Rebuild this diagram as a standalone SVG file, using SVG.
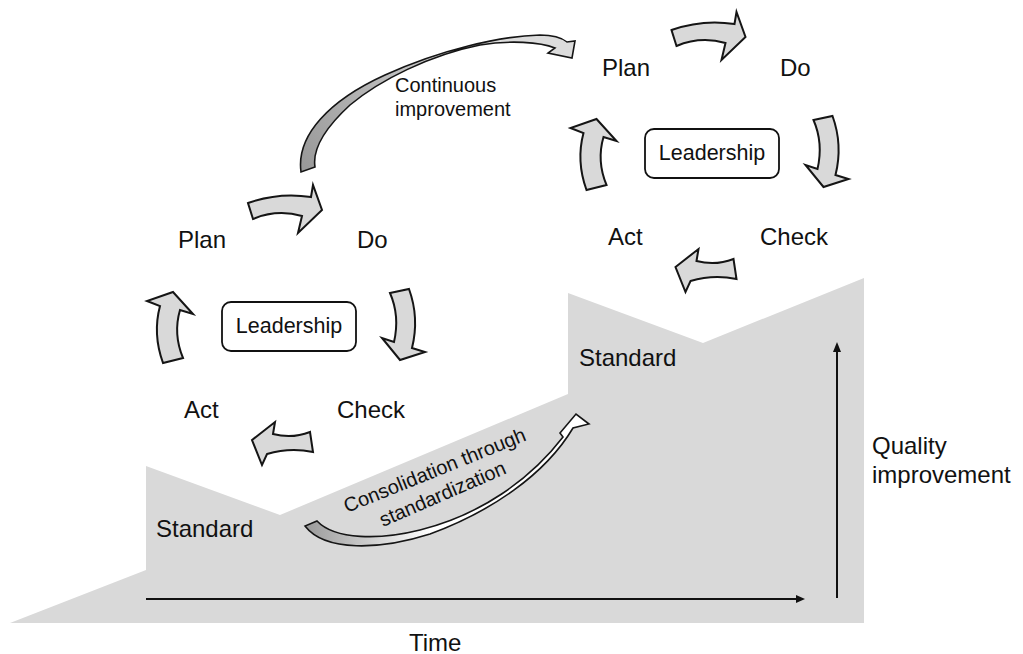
<svg xmlns="http://www.w3.org/2000/svg" xmlns:xlink="http://www.w3.org/1999/xlink" width="1023" height="654" viewBox="0 0 1023 654">
  <style>
    .lbl { font-family: "Liberation Sans", Arial, sans-serif; font-size: 24px; fill: #111; }
    .lead { font-family: "Liberation Sans", Arial, sans-serif; font-size: 21.5px; fill: #111; text-anchor: middle; }
    .note { font-family: "Liberation Sans", Arial, sans-serif; font-size: 20px; fill: #111; }
    .box { fill: #fff; stroke: #111; stroke-width: 1.8; }
    .cyc { fill: #d9d9d9; stroke: #151515; stroke-width: 2; stroke-linejoin: miter; }
    .axis { stroke: #111; stroke-width: 2; fill: none; }
    .head { fill: #111; }
  </style>
  <defs>
    <!-- curved block arrows of one PDCA cycle -->
    <path id="arrPD" d="M248,203 Q279,192 311,197 L313,185 L322,210 L298,233 L302,216 Q277,209 253,219 Z"/>
    <path id="arrDC" d="M390,293 L409,289 Q419.5,318 412,348 L425,352 L400,360 L382,338 L394,342 Q400,316 390,293 Z"/>
    <path id="arrCA" d="M310,432 Q292,439 273,434 L275,422 L252,440 L262,465 L267,454 Q290,447 313,452 Z"/>
    <path id="arrAP" d="M163,363 Q152.5,334 160,306 L147,301 L173,292 L193,314 L180,310 Q173,334 183,358 Z"/>
    <linearGradient id="gradUp" gradientUnits="userSpaceOnUse" x1="305" y1="165" x2="500" y2="40">
      <stop offset="0" stop-color="#9a9a9a"/>
      <stop offset="1" stop-color="#dcdcdc"/>
    </linearGradient>
    <linearGradient id="gradCons" gradientUnits="userSpaceOnUse" x1="305" y1="530" x2="430" y2="530">
      <stop offset="0" stop-color="#9a9a9a"/>
      <stop offset="1" stop-color="#ffffff"/>
    </linearGradient>
  </defs>

  <!-- stepped quality staircase -->
  <g id="staircase">
    <polygon points="10,623 146,570 146,466 280,515 568,394 568,293 703,343 864,278 864,623" fill="#d9d9d9"/>
  </g>

  <!-- axes -->
  <g id="axes">
    <line class="axis" x1="146" y1="599" x2="797" y2="599"/>
    <polygon class="head" points="805,599 796,595 796,603"/>
    <line class="axis" x1="837" y1="598" x2="837" y2="351"/>
    <polygon class="head" points="837,342 833,352 841,352"/>
  </g>

  <g id="connectors">
    <!-- first cycle -->
    <use xlink:href="#arrPD" class="cyc"/>
    <use xlink:href="#arrDC" class="cyc"/>
    <use xlink:href="#arrCA" class="cyc"/>
    <use xlink:href="#arrAP" class="cyc"/>
    <!-- second, higher cycle -->
    <g transform="translate(423.5,-173)">
      <use xlink:href="#arrPD" class="cyc"/>
      <use xlink:href="#arrDC" class="cyc"/>
      <use xlink:href="#arrCA" class="cyc"/>
      <use xlink:href="#arrAP" class="cyc"/>
    </g>
    <!-- continuous improvement arc -->
    <path id="arrImprove" d="M301,172 C296,135 330,100 385,75 C440,50 500,36 540,35 C553,35 562,38 567,42 L575,41 L572,58 L548,53 L555,48 C540,42 510,40 480,45 C430,55 380,80 350,105 C325,128 312,148 315,167 Z" fill="url(#gradUp)" stroke="#151515" stroke-width="1.6" stroke-linejoin="miter"/>
    <!-- consolidation arc -->
    <path id="arrConsolidate" d="M317,521 C335,540 380,540 420,530 C480,515 530,480 563,437 L560,433 L576,414 L589,424 L573,428 C545,475 490,512 430,534 C380,550 325,552 305,526 Z" fill="url(#gradCons)" stroke="#151515" stroke-width="1.6" stroke-linejoin="miter"/>
  </g>

  <!-- first cycle nodes -->
  <g id="plan1"><text class="lbl" x="178" y="248">Plan</text></g>
  <g id="do1"><text class="lbl" x="357" y="248">Do</text></g>
  <g id="check1"><text class="lbl" x="337" y="418">Check</text></g>
  <g id="act1"><text class="lbl" x="184" y="418">Act</text></g>
  <g id="leadership1">
    <rect class="box" x="222" y="302" width="134" height="49" rx="9"/>
    <text class="lead" x="289" y="333">Leadership</text>
  </g>
  <g id="standard1"><text class="lbl" x="156" y="537">Standard</text></g>

  <!-- second cycle nodes -->
  <g id="plan2"><text class="lbl" x="602" y="76">Plan</text></g>
  <g id="do2"><text class="lbl" x="780" y="76">Do</text></g>
  <g id="check2"><text class="lbl" x="760" y="245">Check</text></g>
  <g id="act2"><text class="lbl" x="608" y="245">Act</text></g>
  <g id="leadership2">
    <rect class="box" x="645" y="129" width="134" height="49" rx="9"/>
    <text class="lead" x="712" y="160">Leadership</text>
  </g>
  <g id="standard2"><text class="lbl" x="579" y="366">Standard</text></g>

  <!-- annotations -->
  <g id="improveLabel">
    <text class="note" x="395" y="92">Continuous</text>
    <text class="note" x="395" y="116">improvement</text>
  </g>
  <g id="consolidateLabel">
    <text class="note" x="347" y="513" transform="rotate(-22 347 513)">Consolidation through</text>
    <text class="note" x="383" y="527" transform="rotate(-23.4 383 527)">standardization</text>
  </g>
  <g id="qualityLabel">
    <text class="lbl" x="872" y="454">Quality</text>
    <text class="lbl" x="872" y="483">improvement</text>
  </g>
  <g id="timeLabel"><text class="lbl" x="409" y="651">Time</text></g>
</svg>
